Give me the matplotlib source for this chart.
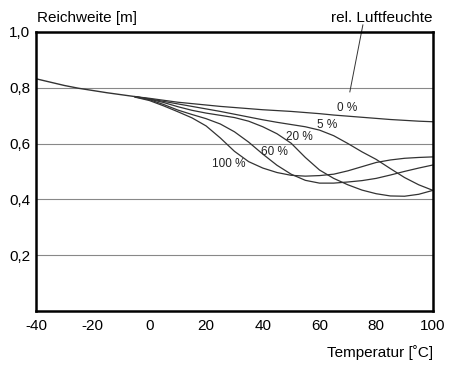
import matplotlib.pyplot as plt

# Temperatur [°C] und Reichweite [m] je rel. Luftfeuchte
temp_common = [-40, -35, -30, -25, -20, -15, -10, -5]
reach_common = [0.832, 0.820, 0.808, 0.798, 0.790, 0.782, 0.775, 0.768]

temp = [-5, 0, 5, 10, 15, 20, 25, 30, 35, 40, 45, 50, 55, 60, 65, 70,
        75, 80, 85, 90, 95, 100]
reach_0 = [0.768, 0.762, 0.755, 0.748, 0.743, 0.738, 0.733, 0.729, 0.725,
           0.721, 0.718, 0.715, 0.711, 0.707, 0.702, 0.698, 0.694, 0.690,
           0.686, 0.683, 0.680, 0.678]
reach_5 = [0.768, 0.760, 0.751, 0.742, 0.733, 0.724, 0.715, 0.705, 0.695,
           0.685, 0.676, 0.668, 0.660, 0.648, 0.628, 0.600, 0.570, 0.543,
           0.510, 0.478, 0.452, 0.432]
reach_20 = [0.768, 0.759, 0.747, 0.732, 0.719, 0.709, 0.701, 0.693, 0.680,
            0.660, 0.635, 0.601, 0.550, 0.505, 0.475, 0.452, 0.433, 0.420,
            0.412, 0.411, 0.418, 0.432]
reach_60 = [0.767, 0.757, 0.740, 0.720, 0.704, 0.689, 0.670, 0.642, 0.605,
            0.562, 0.522, 0.490, 0.468, 0.458, 0.458, 0.462, 0.467, 0.475,
            0.487, 0.500, 0.512, 0.523]
reach_100 = [0.766, 0.754, 0.735, 0.714, 0.692, 0.663, 0.620, 0.572, 0.535,
             0.512, 0.496, 0.486, 0.483, 0.485, 0.490, 0.502, 0.517, 0.532,
             0.541, 0.547, 0.550, 0.552]

labels = ['0 %', '5 %', '20 %', '60 %', '100 %']
label_pos = [(69.6, 0.728), (62.6, 0.667), (53, 0.625), (44, 0.57), (28, 0.527)]

plt.rcParams['font.family'] = ['Liberation Sans', 'DejaVu Sans']
plt.rcParams['axes.unicode_minus'] = False

fig = plt.figure(figsize=(4.5, 3.71), dpi=100)
ax = fig.add_axes([0.08, 0.162, 0.882, 0.752])

col = '#333333'
ax.plot(temp_common, reach_common, color=col, lw=1)
for r in [reach_0, reach_5, reach_20, reach_60, reach_100]:
    ax.plot(temp, r, color=col, lw=0.9)

for lab, (x, y) in zip(labels, label_pos):
    ax.text(x, y, lab, fontsize=8.5, ha='center', va='center', color='#222222')

for g in [0.2, 0.4, 0.6, 0.8]:
    ax.axhline(g, color='#888888', lw=0.8, zorder=0)

ax.set_xlim(-40, 100)
ax.set_ylim(0, 1.0)
ax.set_xticks([-40, -20, 0, 20, 40, 60, 80, 100])
ax.set_yticks([0.2, 0.4, 0.6, 0.8, 1.0])
ax.set_yticklabels(['0,2', '0,4', '0,6', '0,8', '1,0'])
ax.tick_params(length=0, labelsize=11, pad=6)
ax.tick_params(axis='y', pad=4)
for s in ax.spines.values():
    s.set_linewidth(1.8)

# Hinweislinie zu "rel. Luftfeuchte"
ax.plot([75.3, 70.7], [1.025, 0.785], color=col, lw=0.7, clip_on=False)

fig.text(0.082, 0.952, 'Reichweite [m]', fontsize=11, ha='left', va='center')
fig.text(0.962, 0.952, 'rel. Luftfeuchte', fontsize=11, ha='right', va='center')
fig.text(0.962, 0.05, 'Temperatur [˚C]', fontsize=11, ha='right', va='center')

fig.savefig('out.png', dpi=100, facecolor='white')
